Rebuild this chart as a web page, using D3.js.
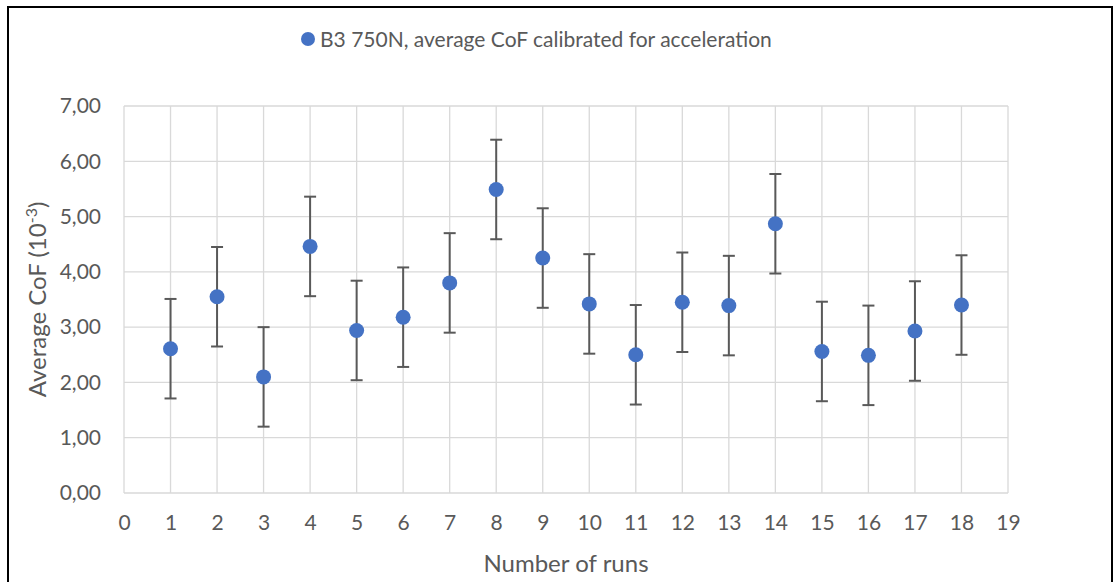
<!DOCTYPE html>
<html>
<head>
<meta charset="utf-8">
<script src="https://cdn.jsdelivr.net/npm/d3@7"></script>
<style>
  body { margin: 0; background: #fff; }
  svg text { font-family: Lato, "Liberation Sans", sans-serif; fill: #595959; }
</style>
</head>
<body>
<div id="chart"></div>
<script>
// run numbers and average CoF (10^-3) with error bar size
var runs = [1, 2, 3, 4, 5, 6, 7, 8, 9, 10, 11, 12, 13, 14, 15, 16, 17, 18];
var cof = [2.61, 3.55, 2.10, 4.46, 2.94, 3.18, 3.80, 5.49, 4.25, 3.42, 2.50, 3.45, 3.39, 4.87, 2.56, 2.49, 2.93, 3.40];
var err = [0.9, 0.9, 0.9, 0.9, 0.9, 0.9, 0.9, 0.9, 0.9, 0.9, 0.9, 0.9, 0.9, 0.9, 0.9, 0.9, 0.9, 0.9];
var xTicks = d3.range(0, 20);
var yTicks = [0, 1, 2, 3, 4, 5, 6, 7];
var seriesName = "B3 750N, average CoF calibrated for acceleration";

var W = 1115, H = 582;
var margin = {top: 106, right: 107, bottom: 89, left: 124},
    width = W - margin.left - margin.right,
    height = H - margin.top - margin.bottom;

var svgRoot = d3.select("#chart")
  .append("svg")
    .attr("width", W)
    .attr("height", H);

// outer frame
svgRoot.append("rect")
  .attr("x", 8).attr("y", 7)
  .attr("width", 1104).attr("height", 600)
  .attr("fill", "none")
  .attr("stroke", "#000")
  .attr("stroke-width", 2);

var svg = svgRoot.append("g")
  .attr("transform", "translate(" + margin.left + "," + margin.top + ")");

var x = d3.scaleLinear().domain([0, 19]).range([0, width]);
var y = d3.scaleLinear().domain([0, 7]).range([height, 0]);

// gridlines
svg.append("g")
  .selectAll("line")
  .data(yTicks)
  .enter().append("line")
    .attr("x1", 0).attr("x2", width)
    .attr("y1", function(d) { return y(d); })
    .attr("y2", function(d) { return y(d); })
    .attr("stroke", "#d9d9d9")
    .attr("stroke-width", 1.3);

svg.append("g")
  .selectAll("line")
  .data(xTicks)
  .enter().append("line")
    .attr("y1", 0).attr("y2", height)
    .attr("x1", function(d) { return x(d); })
    .attr("x2", function(d) { return x(d); })
    .attr("stroke", "#d9d9d9")
    .attr("stroke-width", 1.3);

// axes (labels only)
var xAxis = svg.append("g")
  .attr("transform", "translate(0," + height + ")")
  .call(d3.axisBottom(x).tickValues(xTicks).tickSize(0).tickPadding(22).tickFormat(d3.format("d")));
xAxis.select(".domain").remove();
xAxis.selectAll("text").style("font-size", "21px").attr("fill", "#595959");

var yAxis = svg.append("g")
  .call(d3.axisLeft(y).tickValues(yTicks).tickSize(0).tickPadding(23)
    .tickFormat(function(d) { return d3.format(".2f")(d).replace(".", ","); }));
yAxis.select(".domain").remove();
yAxis.selectAll("text").style("font-size", "21px").attr("fill", "#595959");

// error bars
var bars = svg.append("g")
  .selectAll("g")
  .data(runs)
  .enter().append("g");

bars.append("line")
  .attr("x1", function(d) { return x(d); })
  .attr("x2", function(d) { return x(d); })
  .attr("y1", function(d, i) { return y(cof[i] + err[i]); })
  .attr("y2", function(d, i) { return y(cof[i] - err[i]); })
  .attr("stroke", "#595959").attr("stroke-width", 2);

bars.append("line")
  .attr("x1", function(d) { return x(d) - 6; })
  .attr("x2", function(d) { return x(d) + 6; })
  .attr("y1", function(d, i) { return y(cof[i] + err[i]); })
  .attr("y2", function(d, i) { return y(cof[i] + err[i]); })
  .attr("stroke", "#595959").attr("stroke-width", 2);

bars.append("line")
  .attr("x1", function(d) { return x(d) - 6; })
  .attr("x2", function(d) { return x(d) + 6; })
  .attr("y1", function(d, i) { return y(cof[i] - err[i]); })
  .attr("y2", function(d, i) { return y(cof[i] - err[i]); })
  .attr("stroke", "#595959").attr("stroke-width", 2);

// dots
svg.append("g")
  .selectAll("circle")
  .data(runs)
  .enter().append("circle")
    .attr("cx", function(d) { return x(d); })
    .attr("cy", function(d, i) { return y(cof[i]); })
    .attr("r", 7.5)
    .style("fill", "#4472c4");

// legend
var legend = svgRoot.append("g");
legend.append("circle")
  .attr("cx", 308).attr("cy", 39).attr("r", 7)
  .style("fill", "#4472c4");
legend.append("text")
  .attr("x", 320).attr("y", 47)
  .style("font-size", "21px")
  .text(seriesName);

// x axis title
svgRoot.append("text")
  .attr("x", margin.left + width / 2)
  .attr("y", 572)
  .attr("text-anchor", "middle")
  .style("font-size", "24px")
  .text("Number of runs");

// y axis title
var yTitle = svgRoot.append("text")
  .attr("transform", "translate(46," + (margin.top + height / 2) + ") rotate(-90)")
  .attr("text-anchor", "middle")
  .style("font-size", "24px");
yTitle.append("tspan").text("Average CoF (10");
yTitle.append("tspan").attr("dy", -9).style("font-size", "16px").text("-3");
yTitle.append("tspan").attr("dy", 9).text(")");
</script>
</body>
</html>
